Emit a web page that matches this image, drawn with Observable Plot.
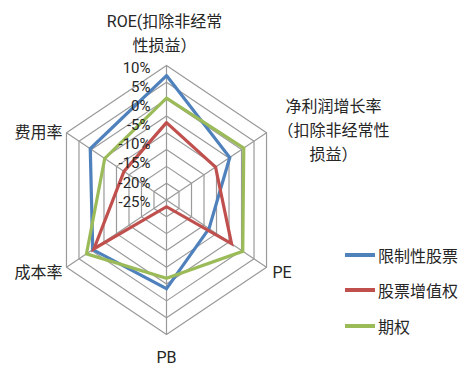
<!DOCTYPE html>
<html><head><meta charset="utf-8">
<script src="https://cdn.jsdelivr.net/npm/d3@7"></script>
<script src="https://cdn.jsdelivr.net/npm/@observablehq/plot@0.6"></script>
<style>
body{margin:0;background:#fff;font-family:Roboto,"Noto Sans CJK SC",sans-serif;}
#wrap{position:relative;width:471px;height:366px;}
#legend{position:absolute;left:345px;top:0;font-family:"Noto Sans CJK SC",sans-serif;font-size:16px;color:#262626;}
.row{position:absolute;left:0;display:flex;align-items:center;white-space:nowrap;height:24px;}
.sw{width:30px;height:4px;margin-right:3px;}
</style></head><body><div id="wrap"></div>
<script>
const axisNames = ["ROE(扣除非经常\n性损益）", "净利润增长率\n（扣除非经常性\n损益）", "PE", "PB", "成本率", "费用率"];
const seriesNames = ["限制性股票", "股票增值权", "期权"];
const restrictedStock = [7, -4.7, -13, -3.6, -0.5, 0.5];
const appreciationRights = [-7, -10.4, -4, -28, -1, -13];
const stockOptions = [0.3, 0.9, 0.5, -6.7, 2, -5.3];
const tickValues = [10, 5, 0, -5, -10, -15, -20, -25];
const seriesColors = ["#4F81BD", "#C0504D", "#9BBB59"];

const vMin = -30, vMax = 10;
const rad = v => (v - vMin) / (vMax - vMin);
const ang = i => i * Math.PI / 3;
const pt = (i, r) => ({x: r * Math.sin(ang(i)), y: r * Math.cos(ang(i))});

// grid rings
const rings = [];
tickValues.forEach(t => {
  for (let k = 0; k <= 6; k++) { const p = pt(k % 6, rad(t)); rings.push({...p, ring: t}); }
});
const spokes = axisNames.map((n, i) => ({...pt(i, 1)}));

// series
const allSeries = [restrictedStock, appreciationRights, stockOptions];
const lines = [];
allSeries.forEach((vals, s) => {
  for (let k = 0; k <= 6; k++) { const p = pt(k % 6, rad(vals[k % 6])); lines.push({...p, s: seriesNames[s]}); }
});

// axis label layout (offsets in px from outer vertex)
const labelLayout = [
  {dx: -2, dy: -34, anchor: "middle"},
  {dx: 67, dy: -4, anchor: "middle"},
  {dx: 6, dy: 3, anchor: "start"},
  {dx: 0, dy: 21, anchor: "middle"},
  {dx: -4, dy: 3, anchor: "end"},
  {dx: -4, dy: -2, anchor: "end"}
];
const labels = axisNames.map((n, i) => ({...pt(i, 1), text: n, ...labelLayout[i]}));

// tick labels: Excel spaces them slightly wider than the rings
const tickLabels = tickValues.map(t => ({x: 0, y: 0.98 - (10 - t) / 5 * 0.142, text: t + "%"}));

const cx = 166, cy = 199.5, rx = 115.5, ry = 134.5;
const marks = [
  Plot.line(rings, {x: "x", y: "y", z: "ring", stroke: "#9a9a9a", strokeWidth: 1.2}),
  Plot.link(spokes, {x1: 0, y1: 0, x2: "x", y2: "y", stroke: "#9a9a9a", strokeWidth: 1.2}),
  Plot.line(lines, {x: "x", y: "y", z: "s", stroke: "s", strokeWidth: 3.2, strokeLinejoin: "miter", strokeMiterlimit: 10}),
  Plot.text(tickLabels, {x: "x", y: "y", text: "text", textAnchor: "end", dx: -16, fontSize: 15, fill: "#262626"})
];
labels.forEach(l => {
  marks.push(Plot.text([l], {x: "x", y: "y", text: "text", textAnchor: l.anchor, dx: l.dx, dy: l.dy, fontSize: 16, lineHeight: 1.5, fill: "#262626"}));
});

const chart = Plot.plot({
  width: 471, height: 366,
  marginTop: 0, marginBottom: 0, marginLeft: 0, marginRight: 0,
  x: {domain: [-1, 1], range: [cx - rx, cx + rx], axis: null},
  y: {domain: [-1, 1], range: [cy + ry, cy - ry], axis: null},
  color: {domain: seriesNames, range: seriesColors},
  style: {fontFamily: 'Roboto, "Noto Sans CJK SC", sans-serif', background: "#fff"},
  marks
});
const wrap = document.getElementById("wrap");
wrap.appendChild(chart);

const legend = document.createElement("div");
legend.id = "legend";
const rowY = [255, 290, 326];
seriesNames.forEach((n, i) => {
  const r = document.createElement("div");
  r.className = "row";
  r.style.top = (rowY[i] - 12) + "px";
  r.innerHTML = `<div class="sw" style="background:${seriesColors[i]}"></div><span>${n}</span>`;
  legend.appendChild(r);
});
wrap.appendChild(legend);
</script></body></html>
